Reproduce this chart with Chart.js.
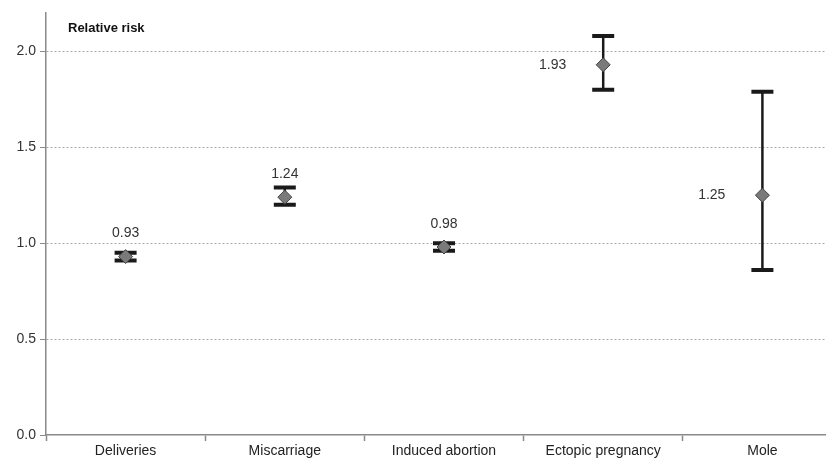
<!DOCTYPE html>
<html>
<head>
<meta charset="utf-8">
<script src="https://cdn.jsdelivr.net/npm/chart.js@4/dist/chart.umd.min.js"></script>
<style>
  html, body { margin: 0; padding: 0; background: #fff; overflow: hidden; }
  #wrap { width: 850px; height: 462px; }
</style>
</head>
<body>
<div id="wrap"><canvas id="rr" width="850" height="462"></canvas></div>
<script>
// categorias y valores
var categories = ['Deliveries', 'Miscarriage', 'Induced abortion', 'Ectopic pregnancy', 'Mole'];
var riskValues = [0.93, 1.24, 0.98, 1.93, 1.25];
var ciLow = [0.91, 1.20, 0.96, 1.80, 0.86];
var ciHigh = [0.95, 1.29, 1.00, 2.08, 1.79];
var yTicks = [0, 0.5, 1.0, 1.5, 2.0];
// donde va cada etiqueta de valor: arriba o a la izquierda
var labelSide = ['top', 'top', 'top', 'left', 'left'];

// dibuja los intervalos de confianza con las escalas del chart
var errorBars = {
  id: 'errorBars',
  beforeDatasetsDraw: function (chart) {
    var c = chart.ctx;
    var x = chart.scales.x, y = chart.scales.y;
    c.save();
    c.strokeStyle = '#1a1a1a';
    for (var i = 0; i < categories.length; i++) {
      var px = x.getPixelForValue(i);
      var yl = y.getPixelForValue(ciLow[i]);
      var yh = y.getPixelForValue(ciHigh[i]);
      c.lineWidth = 2.5;
      c.beginPath();
      c.moveTo(px, yl);
      c.lineTo(px, yh);
      c.stroke();
      c.lineWidth = 4;
      c.beginPath();
      c.moveTo(px - 11, yl); c.lineTo(px + 11, yl);
      c.moveTo(px - 11, yh); c.lineTo(px + 11, yh);
      c.stroke();
    }
    c.restore();
  },
  afterDatasetsDraw: function (chart) {
    var c = chart.ctx;
    var x = chart.scales.x, y = chart.scales.y;
    c.save();
    c.fillStyle = '#333';
    c.font = '14px "Liberation Sans", Arial, sans-serif';
    for (var i = 0; i < categories.length; i++) {
      var px = x.getPixelForValue(i);
      var py = y.getPixelForValue(riskValues[i]);
      var txt = riskValues[i].toFixed(2);
      if (labelSide[i] === 'top') {
        c.textAlign = 'center';
        c.textBaseline = 'middle';
        c.fillText(txt, px, py - 23);
      } else {
        c.textAlign = 'right';
        c.textBaseline = 'middle';
        c.fillText(txt, px - 37, py);
      }
    }
    // titulo del eje dentro del area
    c.fillStyle = '#111';
    c.font = 'bold 13px "Liberation Sans", Arial, sans-serif';
    c.textAlign = 'left';
    c.textBaseline = 'middle';
    c.fillText('Relative risk', chart.chartArea.left + 22, 28);
    c.restore();
  }
};

var ctx = document.getElementById('rr').getContext('2d');

var chart = new Chart(ctx, {
  type: 'line',
  data: {
    labels: categories,
    datasets: [{
      label: 'Relative risk',
      data: riskValues,
      showLine: false,
      pointStyle: 'rectRot',
      pointRadius: 7,
      pointBackgroundColor: '#7a7a7a',
      pointBorderColor: '#444',
      pointBorderWidth: 1
    }]
  },
  options: {
    responsive: false,
    animation: false,
    layout: { padding: { top: 13, right: 6, left: 0, bottom: 0 } },
    plugins: {
      legend: { display: false },
      tooltip: { enabled: false }
    },
    scales: {
      x: {
        offset: true,
        grid: {
          offset: true,
          drawOnChartArea: false,
          drawTicks: true,
          tickLength: 6,
          tickColor: '#8a8a8a',
          tickWidth: 1.5
        },
        border: { color: '#8a8a8a', width: 1.5 },
        ticks: {
          color: '#222',
          padding: 2,
          maxRotation: 0,
          autoSkip: false,
          font: { family: '"Liberation Sans Narrow", "Liberation Sans", Arial, sans-serif', size: 14 }
        },
        afterFit: function (s) { s.height = 27; }
      },
      y: {
        min: 0,
        max: 2.2,
        afterBuildTicks: function (s) {
          s.ticks = yTicks.map(function (v) { return { value: v }; });
        },
        grid: {
          color: function (c) { return c.tick && c.tick.value === 0 ? 'rgba(0,0,0,0)' : '#a8a8a8'; },
          lineWidth: 1,
          tickColor: '#8a8a8a',
          tickLength: 6,
          tickBorderDash: [0, 0]
        },
        border: { color: '#8a8a8a', width: 1.5, dash: [2, 2] },
        ticks: {
          color: '#333',
          padding: 4,
          font: { family: '"Liberation Sans", Arial, sans-serif', size: 14 },
          callback: function (v) { return v.toFixed(1); }
        },
        afterFit: function (s) { s.width = 46; }
      }
    }
  },
  plugins: [errorBars]
});
</script>
</body>
</html>
